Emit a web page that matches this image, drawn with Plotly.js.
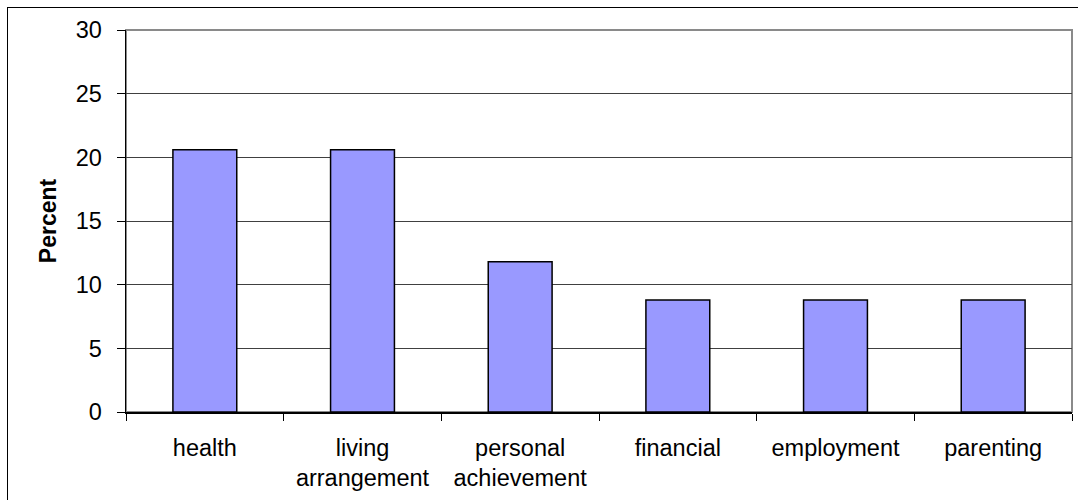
<!DOCTYPE html>
<html>
<head>
<meta charset="utf-8">
<script src="https://cdn.plot.ly/plotly-3.0.1.min.js"></script>
<style>
html,body{margin:0;padding:0;background:#fff;}
#chart{position:absolute;left:0;top:0;width:1078px;height:500px;}
#frame{position:absolute;left:7px;top:7px;width:1200px;height:600px;border:1.5px solid #000;pointer-events:none;}
</style>
</head>
<body>
<div id="chart"></div>
<div id="frame"></div>
<script>
const categories = ["health", "living<br>arrangement", "personal<br>achievement", "financial", "employment", "parenting"];
const percentValues = [20.6, 20.6, 11.8, 8.8, 8.8, 8.8];
const yTickValues = [0, 5, 10, 15, 20, 25, 30];

const trace = {
  type: "bar",
  x: categories,
  y: percentValues,
  marker: {color: "#9999FF", line: {color: "#000000", width: 1.5}},
  hoverinfo: "x+y"
};

const layout = {
  width: 1078,
  height: 500,
  margin: {l: 126, r: 6, t: 30, b: 88},
  paper_bgcolor: "rgba(0,0,0,0)",
  plot_bgcolor: "#ffffff",
  showlegend: false,
  bargap: 0.595,
  font: {family: "Liberation Sans, Arial, sans-serif", size: 24, color: "#000"},
  xaxis: {
    type: "category",
    showgrid: false,
    showline: true,
    linecolor: "#000",
    linewidth: 1.5,
    ticks: "outside",
    tickson: "boundaries",
    ticklen: 7,
    tickcolor: "#000",
    tickwidth: 1,
    tickfont: {size: 23.5},
    ticklabelstandoff: 14,
    automargin: false
  },
  yaxis: {
    range: [0, 30],
    tickvals: yTickValues,
    showgrid: true,
    gridcolor: "#404040",
    gridwidth: 1,
    zeroline: false,
    showline: true,
    linecolor: "#000",
    linewidth: 1.5,
    ticks: "outside",
    ticklen: 8,
    tickcolor: "#000",
    tickwidth: 1,
    tickfont: {size: 23.5},
    ticklabelstandoff: 10,
    automargin: false,
    title: {text: "<b>Percent</b>", font: {size: 23}, standoff: 12}
  },
  shapes: [{
    type: "rect", xref: "paper", yref: "paper", x0: 0, x1: 1, y0: 0, y1: 1,
    line: {color: "#8a8a8a", width: 2}, layer: "below"
  }]
};

Plotly.newPlot("chart", [trace], layout, {displayModeBar: false, staticPlot: true});
</script>
</body>
</html>
